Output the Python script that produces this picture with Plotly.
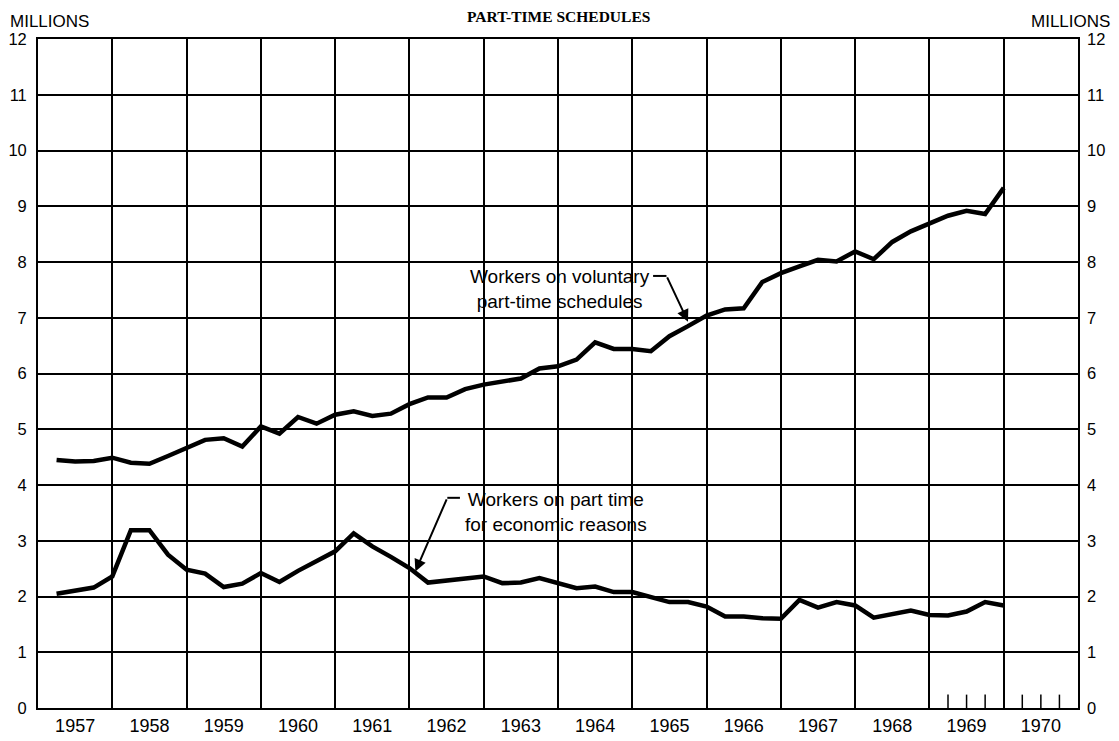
import plotly.graph_objects as go

# Quarter-end positions, 1957 Q1 .. 1969 Q4 (plotted at end of each quarter)
first_year = 1957
n_quarters = 52
quarter_pos = [first_year + 0.25 * (i + 1) for i in range(n_quarters)]

voluntary = [
    4.45, 4.42, 4.43,
    4.49, 4.40, 4.38, 4.52,
    4.67, 4.81, 4.84, 4.69,
    5.05, 4.92, 5.22, 5.10,
    5.26, 5.32, 5.24, 5.28,
    5.45, 5.57, 5.57, 5.72,
    5.80, 5.85, 5.91, 6.09,
    6.13, 6.25, 6.56, 6.44,
    6.44, 6.40, 6.67, 6.85,
    7.04, 7.15, 7.17, 7.64,
    7.80, 7.92, 8.04, 8.01,
    8.19, 8.05, 8.36, 8.55,
    8.70, 8.83, 8.92, 8.86,
    9.33,
]

economic = [
    2.05, 2.11, 2.16,
    2.36, 3.19, 3.19, 2.75,
    2.48, 2.41, 2.17, 2.23,
    2.42, 2.26, 2.46, 2.63,
    2.81, 3.13, 2.90, 2.71,
    2.51, 2.25, 2.29, 2.32,
    2.36, 2.24, 2.25, 2.33,
    2.25, 2.15, 2.18, 2.08,
    2.08, 2.00, 1.90, 1.90,
    1.82, 1.64, 1.64, 1.61,
    1.60, 1.94, 1.80, 1.90,
    1.84, 1.62, 1.68, 1.75,
    1.67, 1.66, 1.73, 1.90,
    1.84,
]

year_labels = [str(y) for y in range(1957, 1971)]
year_centers = [y + 0.5 for y in range(1957, 1971)]
year_bounds = list(range(1957, 1972))
y_ticks = list(range(0, 13))
quarter_ticks = [1969.25, 1969.5, 1969.75, 1970.25, 1970.5, 1970.75]

FONT = "Liberation Sans, Arial, sans-serif"
LINE_W = 4.5
GRID_W = 1.8

fig = go.Figure()
fig.add_trace(go.Scatter(x=quarter_pos, y=voluntary, mode="lines",
                         line=dict(color="black", width=LINE_W), showlegend=False,
                         name="Workers on voluntary part-time schedules"))
fig.add_trace(go.Scatter(x=quarter_pos, y=economic, mode="lines",
                         line=dict(color="black", width=LINE_W), showlegend=False,
                         name="Workers on part time for economic reasons"))
# invisible trace to carry the right-hand axis
fig.add_trace(go.Scatter(x=[quarter_pos[0]], y=[economic[0]], yaxis="y2", mode="markers",
                         marker=dict(opacity=0), showlegend=False, hoverinfo="skip"))

# the page body adds an 8px offset, so the figure is sized 8px smaller
fig.update_layout(
    width=1111, height=733,
    paper_bgcolor="white", plot_bgcolor="white",
    margin=dict(l=30, r=41, t=31, b=33, autoexpand=False),
    font=dict(family=FONT, color="black", size=17),
    xaxis=dict(range=[1957, 1971], tickmode="array", tickvals=year_centers,
               ticktext=year_labels, showgrid=False, ticks="", zeroline=False,
               showline=True, linecolor="black", linewidth=GRID_W, mirror=True,
               tickfont=dict(size=18),
               minor=dict(tickmode="array", tickvals=year_bounds, showgrid=True,
                          gridcolor="black", gridwidth=GRID_W, ticks="")),
    yaxis=dict(range=[0, 12], tickmode="array", tickvals=y_ticks, showgrid=True,
               gridcolor="black", gridwidth=GRID_W, zeroline=False, ticks="",
               showline=True, linecolor="black", linewidth=GRID_W, mirror=True,
               ticklabelstandoff=6, tickfont=dict(size=16.5)),
    yaxis2=dict(range=[0, 12], tickmode="array", tickvals=y_ticks, overlaying="y",
                side="right", showgrid=False, zeroline=False, ticks="",
                ticklabelstandoff=8, tickfont=dict(size=16.5)),
)

shapes = []
for q in quarter_ticks:
    shapes.append(dict(type="line", xref="x", yref="y", x0=q, x1=q, y0=0, y1=0.24,
                       line=dict(color="black", width=1.5)))
# leader horizontal segments
shapes.append(dict(type="line", xref="x", yref="y", x0=1965.28, x1=1965.46, y0=7.75, y1=7.75,
                   line=dict(color="black", width=2)))
shapes.append(dict(type="line", xref="x", yref="y", x0=1962.51, x1=1962.68, y0=3.77, y1=3.77,
                   line=dict(color="black", width=2)))
fig.update_layout(shapes=shapes)

ann = []
ann.append(dict(text="<b>PART-TIME SCHEDULES</b>", xref="paper", yref="paper",
                x=0.5, y=1, yshift=23, xanchor="center", yanchor="middle", showarrow=False,
                font=dict(family="Liberation Serif, Times New Roman, serif", size=15.5)))
ann.append(dict(text="MILLIONS", xref="paper", yref="paper", x=0, xshift=-30, y=1, yshift=18,
                xanchor="left", yanchor="middle", showarrow=False, font=dict(size=17)))
ann.append(dict(text="MILLIONS", xref="paper", yref="paper", x=1, xshift=34, y=1, yshift=18,
                xanchor="right", yanchor="middle", showarrow=False, font=dict(size=17)))
ann.append(dict(text="Workers on voluntary<br>part-time schedules", xref="x", yref="y",
                x=1964.03, y=7.52, xanchor="center", yanchor="middle", showarrow=False,
                align="center", font=dict(size=19)))
ann.append(dict(text="Workers on part time<br>for economic reasons", xref="x", yref="y",
                x=1963.97, y=3.52, xanchor="center", yanchor="middle", showarrow=False,
                align="center", font=dict(size=19)))
# arrows
ann.append(dict(text="", xref="x", yref="y", axref="x", ayref="y",
                x=1965.75, y=6.93, ax=1965.46, ay=7.75, showarrow=True,
                arrowhead=2, arrowsize=1.2, arrowwidth=2, arrowcolor="black"))
ann.append(dict(text="", xref="x", yref="y", axref="x", ayref="y",
                x=1962.08, y=2.45, ax=1962.51, ay=3.77, showarrow=True,
                arrowhead=2, arrowsize=1.2, arrowwidth=2, arrowcolor="black"))
fig.update_layout(annotations=ann)

fig.write_html("out.html")
